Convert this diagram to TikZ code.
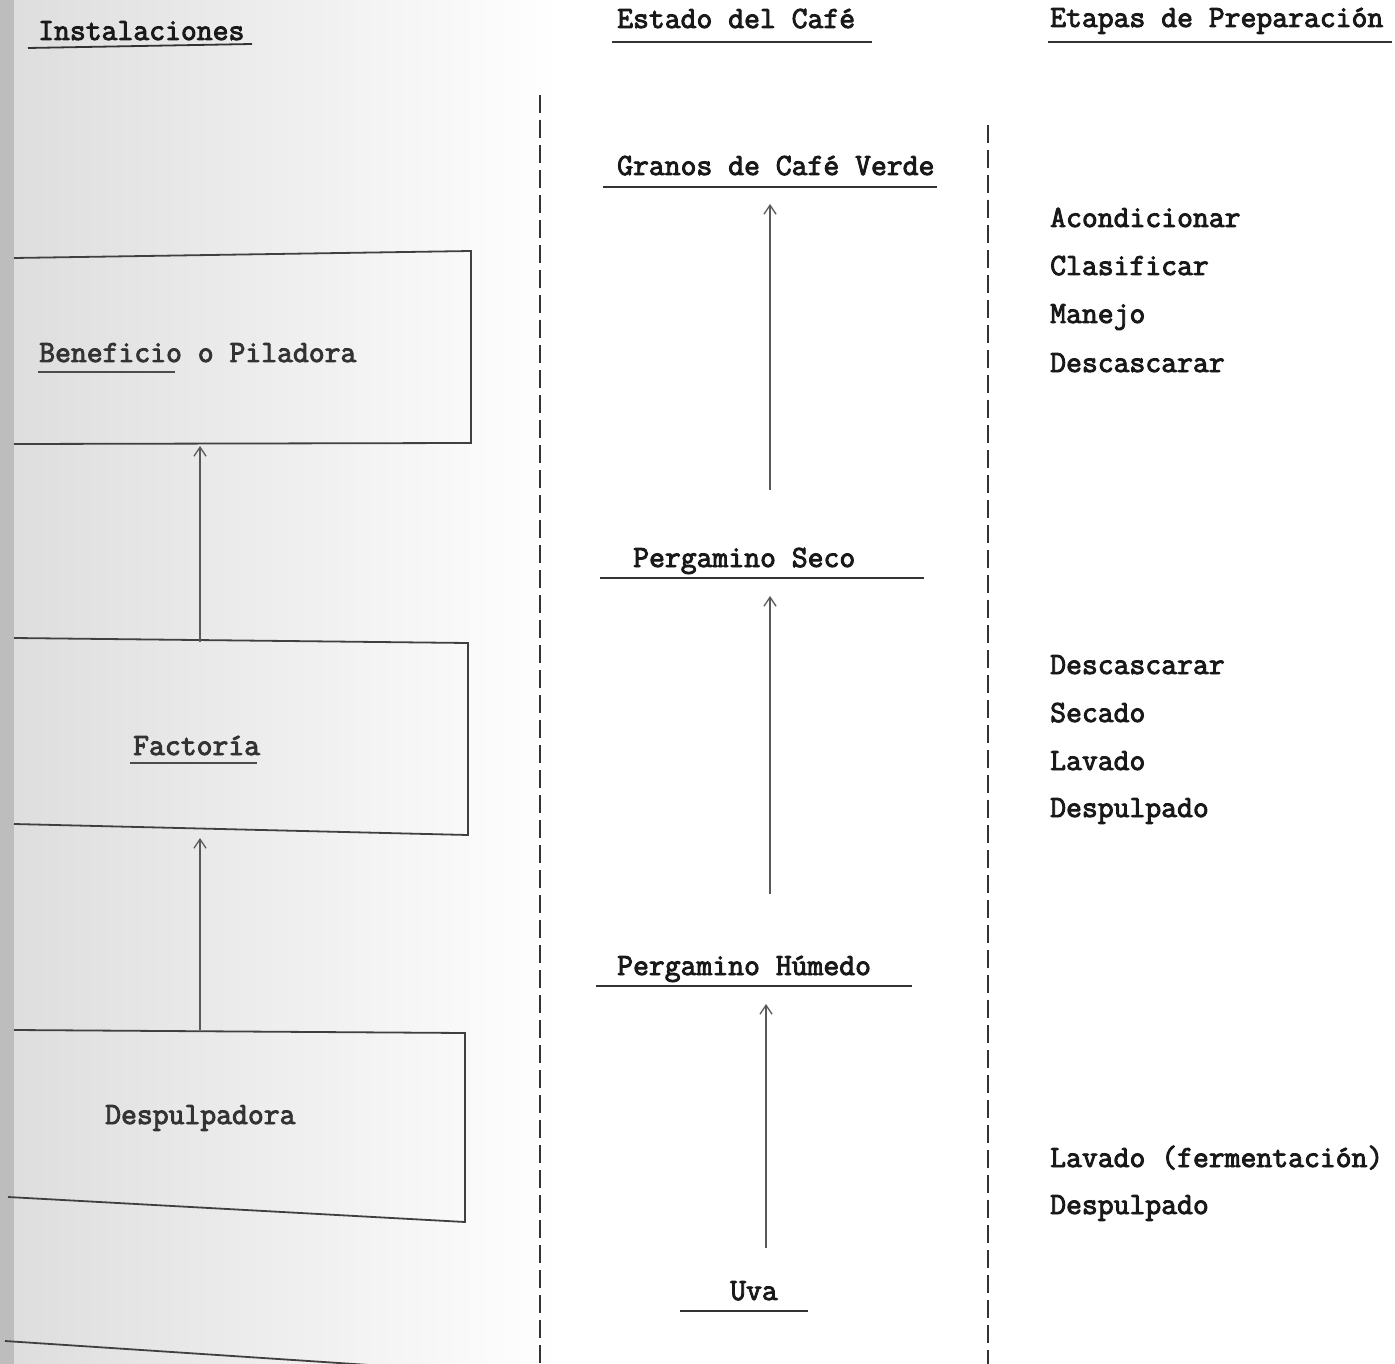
\documentclass[tikz,border=0pt]{standalone}
\usepackage{fontspec}
\newfontfamily\twfont{Latin Modern Mono}[FakeBold=3]
\usetikzlibrary{arrows.meta}
\begin{document}
\begin{tikzpicture}[x=1pt,y=-1pt,
  txt/.style={anchor=base west, inner sep=0pt, font=\fontsize{30.8}{34}\twfont, text=black!90},
  faint/.style={txt, text=black!80},
  uline/.style={line width=1.8pt, draw=black!80},
  boxline/.style={line width=1.8pt, draw=black!75, line join=miter},
  flow/.style={line width=1.3pt, draw=black!65, -{Straight Barb[length=9pt,width=12pt,line width=1.3pt]}},
  sep/.style={line width=2pt, draw=black!80, dash pattern=on 18pt off 7pt}]
\useasboundingbox (0,0) rectangle (1395,1364);
% paper / binding shadow
\fill[white] (0,0) rectangle (1395,1364);
\shade[left color=black!13, middle color=black!8, right color=white] (14,0) rectangle (560,1364);
\fill[black!26] (0,0) rectangle (14,1364);

% column headings
\node[txt] (hInst) at (38,40) {Instalaciones};
\draw[uline] (28,48) -- (252,44);
\node[txt] (hEst) at (617,28) {Estado del Café};
\draw[uline] (612,42) -- (872,42);
\node[txt] (hEta) at (1050,27) {Etapas de Preparación};
\draw[uline] (1048,42) -- (1392,42);

% separators
\coordinate (s1a) at (540,95);  \coordinate (s1b) at (540,1364);
\coordinate (s2a) at (988,125); \coordinate (s2b) at (988,1364);
\draw[sep] (s1a) -- (s1b);
\draw[sep] (s2a) -- (s2b);

% installations (boxes cut by the left edge)
\coordinate (b1tl) at (14,258); \coordinate (b1tr) at (471,251);
\coordinate (b1br) at (471,443); \coordinate (b1bl) at (14,444);
\draw[boxline] (b1tl) -- (b1tr) -- (b1br) -- (b1bl);
\node[faint] (ben) at (39,362) {Beneficio o Piladora};
\draw[uline, draw=black!70] (38,372) -- (175,372);

\coordinate (b2tl) at (14,638); \coordinate (b2tr) at (468,643);
\coordinate (b2br) at (468,835); \coordinate (b2bl) at (14,824);
\draw[boxline] (b2tl) -- (b2tr) -- (b2br) -- (b2bl);
\node[faint] (fac) at (133,755) {Factoría};
\draw[uline, draw=black!70] (130,763) -- (257,763);

\coordinate (b3tl) at (14,1030); \coordinate (b3tr) at (465,1033);
\coordinate (b3br) at (465,1222); \coordinate (b3bl) at (8,1197);
\draw[boxline] (b3tl) -- (b3tr) -- (b3br) -- (b3bl);
\node[faint] (desp) at (105,1124) {Despulpadora};

\coordinate (b4tl) at (5,1341); \coordinate (b4tr) at (430,1369);
\draw[boxline] (b4tl) -- (b4tr);

\coordinate (a1s) at (200,642); \coordinate (a1e) at (200,446);
\coordinate (a2s) at (200,1030); \coordinate (a2e) at (200,838);
\draw[flow] (a1s) -- (a1e);
\draw[flow] (a2s) -- (a2e);

% coffee states
\node[txt] (gran) at (617,175) {Granos de Café Verde};
\draw[uline] (603,187) -- (937,187);
\node[txt] (seco) at (633,567) {Pergamino Seco};
\draw[uline] (600,578) -- (924,578);
\node[txt] (hum) at (617,975) {Pergamino Húmedo};
\draw[uline] (596,986) -- (912,986);
\node[txt] (uva) at (730,1300) {Uva};
\draw[uline] (680,1311) -- (808,1311);

\coordinate (c1s) at (770,490);  \coordinate (c1e) at (770,204);
\coordinate (c2s) at (770,894);  \coordinate (c2e) at (770,596);
\coordinate (c3s) at (766,1248); \coordinate (c3e) at (766,1004);
\draw[flow] (c1s) -- (c1e);
\draw[flow] (c2s) -- (c2e);
\draw[flow] (c3s) -- (c3e);

% preparation stages
\node[txt] (p1) at (1050,227) {Acondicionar};
\node[txt] (p2) at (1050,275) {Clasificar};
\node[txt] (p3) at (1050,323) {Manejo};
\node[txt] (p4) at (1050,372) {Descascarar};
\node[txt] (p5) at (1050,674) {Descascarar};
\node[txt] (p6) at (1050,722) {Secado};
\node[txt] (p7) at (1050,770) {Lavado};
\node[txt] (p8) at (1050,817) {Despulpado};
\node[txt] (p9) at (1050,1167) {Lavado (fermentación)};
\node[txt] (p10) at (1050,1214) {Despulpado};
\end{tikzpicture}
\end{document}
